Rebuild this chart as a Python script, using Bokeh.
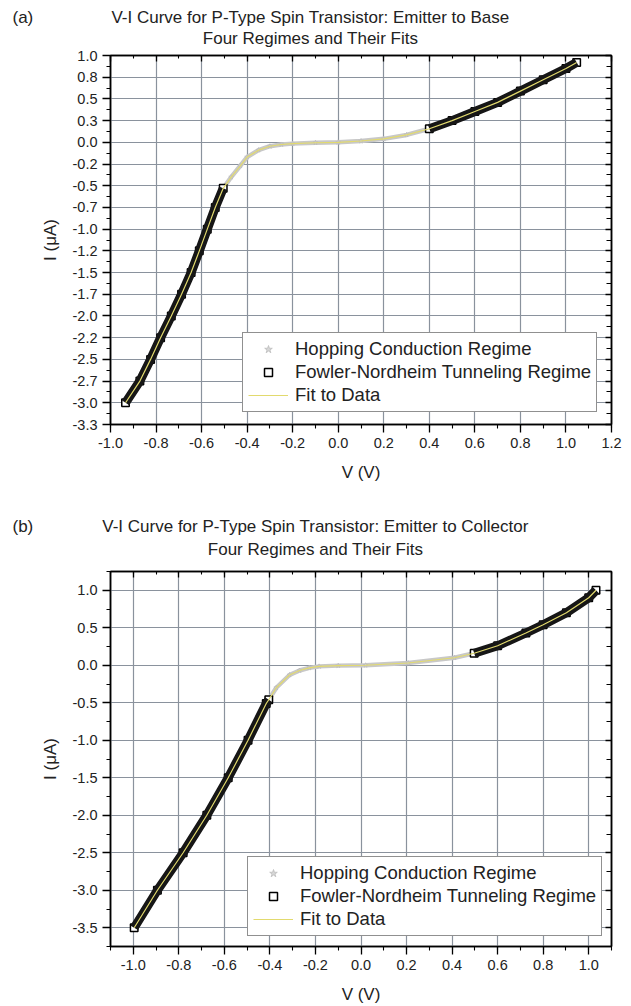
import numpy as np
from bokeh.plotting import figure
from bokeh.models import (Range1d, LinearAxis, FixedTicker, Legend, LegendItem,
                          CustomJSTickFormatter)
from bokeh.core.properties import value
from bokeh.layouts import column
from bokeh.embed import file_html
from bokeh.resources import INLINE

FONT = "Liberation Sans"

# ---------------- panel (a): Emitter to Base ----------------
a_fn_neg_v = [-0.934, -0.871, -0.824, -0.780, -0.733, -0.688, -0.646, -0.610, -0.575, -0.540, -0.505]
a_fn_neg_i = [-3.00, -2.75, -2.50, -2.25, -2.00, -1.75, -1.50, -1.25, -1.00, -0.75, -0.53]
a_hop_v = [-0.505, -0.470, -0.430, -0.400, -0.350, -0.300, -0.250, -0.200, -0.100, 0.000, 0.100, 0.200, 0.300, 0.400]
a_hop_i = [-0.53, -0.40, -0.27, -0.17, -0.09, -0.045, -0.025, -0.015, -0.005, 0.000, 0.015, 0.040, 0.085, 0.156]
a_fn_pos_v = [0.400, 0.500, 0.600, 0.700, 0.800, 0.900, 1.000, 1.047]
a_fn_pos_i = [0.156, 0.250, 0.355, 0.460, 0.590, 0.720, 0.850, 0.920]
a_x_ticks = [-1.0, -0.8, -0.6, -0.4, -0.2, 0.0, 0.2, 0.4, 0.6, 0.8, 1.0, 1.2]
a_x_labels = ["-1.0", "-0.8", "-0.6", "-0.4", "-0.2", "0.0", "0.2", "0.4", "0.6", "0.8", "1.0", "1.2"]
a_y_ticks = [1.0, 0.75, 0.5, 0.25, 0.0, -0.25, -0.5, -0.75, -1.0, -1.25, -1.5, -1.75,
             -2.0, -2.25, -2.5, -2.75, -3.0, -3.25]
a_y_labels = ["1.0", "0.8", "0.5", "0.3", "0.0", "-0.2", "-0.5", "-0.7", "-1.0", "-1.2", "-1.5",
              "-1.7", "-2.0", "-2.2", "-2.5", "-2.7", "-3.0", "-3.3"]

# ---------------- panel (b): Emitter to Collector ----------------
b_fn_neg_v = [-0.996, -0.894, -0.781, -0.677, -0.583, -0.496, -0.416, -0.405]
b_fn_neg_i = [-3.50, -3.00, -2.50, -2.00, -1.50, -1.00, -0.51, -0.46]
b_hop_v = [-0.405, -0.372, -0.314, -0.270, -0.227, -0.184, -0.100, 0.020, 0.207, 0.410, 0.497]
b_hop_i = [-0.46, -0.30, -0.13, -0.07, -0.035, -0.015, -0.005, 0.000, 0.030, 0.100, 0.160]
b_fn_pos_v = [0.497, 0.600, 0.724, 0.800, 0.902, 1.000, 1.032]
b_fn_pos_i = [0.160, 0.260, 0.430, 0.540, 0.700, 0.900, 1.000]
b_x_ticks = [-1.0, -0.8, -0.6, -0.4, -0.2, 0.0, 0.2, 0.4, 0.6, 0.8, 1.0]
b_x_labels = ["-1.0", "-0.8", "-0.6", "-0.4", "-0.2", "0.0", "0.2", "0.4", "0.6", "0.8", "1.0"]
b_y_ticks = [1.0, 0.5, 0.0, -0.5, -1.0, -1.5, -2.0, -2.5, -3.0, -3.5]
b_y_labels = ["1.0", "0.5", "0.0", "-0.5", "-1.0", "-1.5", "-2.0", "-2.5", "-3.0", "-3.5"]

legend_labels = ["Hopping Conduction Regime", "Fowler-Nordheim Tunneling Regime", "Fit to Data"]
subtitle = "Four Regimes and Their Fits"

GRID = "#8a929d"
FIT = "#e2da6e"
TXT = "#222222"


def style_axis(ax, tick_in, tick_out, minor_in, minor_out):
    ax.axis_line_color = "black"
    ax.axis_line_width = 1.5
    ax.major_tick_line_color = "black"
    ax.minor_tick_line_color = "black"
    ax.major_tick_line_width = 1.3
    ax.minor_tick_line_width = 1.1
    ax.major_tick_in = tick_in
    ax.major_tick_out = tick_out
    ax.minor_tick_in = minor_in
    ax.minor_tick_out = minor_out
    ax.major_label_text_font = FONT
    ax.major_label_text_font_size = "14.5px"
    ax.major_label_text_color = TXT
    ax.axis_label_text_font = FONT
    ax.axis_label_text_font_size = "17px"
    ax.axis_label_text_font_style = "normal"
    ax.axis_label_text_color = TXT


def header(height, letter, t1, t2, letter_x, title_x, y1, y2):
    h = figure(width=631, height=height, x_range=Range1d(0, 631), y_range=Range1d(0, height),
               output_backend="svg", toolbar_location=None,
               x_axis_location=None, y_axis_location=None, min_border=0)
    h.frame_align = False
    h.outline_line_color = None
    h.xgrid.visible = False
    h.ygrid.visible = False
    h.text(x=[letter_x], y=[y1], text=[letter], text_font=value(FONT), text_font_size="17px",
           text_baseline="middle", text_align="left", text_color=TXT)
    h.text(x=[title_x, title_x], y=[y1, y2], text=[t1, t2], text_font=value(FONT),
           text_font_size="17px", text_baseline="middle", text_align="center", text_color=TXT)
    return h


def build(height, xr, yr, xt, xl, xminor, yt, yl, yminor,
          fn_neg_v, fn_neg_i, hop_v, hop_i, fn_pos_v, fn_pos_i,
          borders, legend_loc):
    left, right, top, bottom = borders
    p = figure(width=631, height=height, x_range=Range1d(*xr), y_range=Range1d(*yr),
               output_backend="svg", toolbar_location=None,
               min_border_left=left, min_border_right=right,
               min_border_top=top, min_border_bottom=bottom)
    p.outline_line_color = "black"
    p.outline_line_width = 1.5
    p.background_fill_color = "white"
    p.border_fill_color = "white"

    xtick = FixedTicker(ticks=xt, minor_ticks=xminor)
    ytick = FixedTicker(ticks=yt, minor_ticks=yminor)

    xa = p.xaxis[0]
    xa.ticker = xtick
    xa.major_label_overrides = {float(t): s for t, s in zip(xt, xl)}
    xa.axis_label = "V (V)"
    xa.axis_label_standoff = 12
    xa.major_label_standoff = 5
    style_axis(xa, 0, 8, 0, 4)

    ya = p.yaxis[0]
    ya.ticker = ytick
    ya.major_label_overrides = {float(t): s for t, s in zip(yt, yl)}
    ya.axis_label = "I (\u03bcA)"
    ya.axis_label_standoff = 10
    ya.major_label_standoff = 5
    style_axis(ya, 0, 8, 0, 4)

    blank = CustomJSTickFormatter(code="return ''")
    top_ax = LinearAxis(ticker=FixedTicker(ticks=xt, minor_ticks=xminor), formatter=blank)
    style_axis(top_ax, 6, 0, 3, 0)
    top_ax.major_label_standoff = 0
    p.add_layout(top_ax, "above")
    right_ax = LinearAxis(ticker=FixedTicker(ticks=yt, minor_ticks=yminor), formatter=blank)
    style_axis(right_ax, 6, 0, 5, 0)
    right_ax.major_label_standoff = 0
    p.add_layout(right_ax, "right")

    p.xgrid[0].ticker = xtick
    p.ygrid[0].ticker = ytick
    for g in (p.xgrid[0], p.ygrid[0]):
        g.grid_line_color = GRID
        g.grid_line_width = 1.2

    # hopping regime (light grey stars, dense)
    p.line(hop_v, hop_i, line_width=4.5, line_color="#c8c8c8")
    r_hop = p.scatter(hop_v, hop_i, marker="star", size=5, fill_color="#d6d6d6",
                      line_color="#bcbcbc", line_width=0.8)
    # Fowler-Nordheim regime (open black squares, dense)
    fn_v = list(fn_neg_v) + list(fn_pos_v)
    fn_i = list(fn_neg_i) + list(fn_pos_i)
    r_fn = p.scatter(fn_v, fn_i, marker="square", size=7.5, fill_color="white",
                     line_color="black", line_width=1.5)
    p.line(fn_neg_v, fn_neg_i, line_width=9, line_color="#161616", line_cap="butt")
    p.line(fn_pos_v, fn_pos_i, line_width=9, line_color="#161616", line_cap="butt")
    # fit to data
    fit_v = list(fn_neg_v) + list(hop_v) + list(fn_pos_v)
    fit_i = list(fn_neg_i) + list(hop_i) + list(fn_pos_i)
    r_fit = p.line(fit_v, fit_i, line_width=1.2, line_color=FIT)

    legend = Legend(items=[LegendItem(label=legend_labels[0], renderers=[r_hop]),
                           LegendItem(label=legend_labels[1], renderers=[r_fn]),
                           LegendItem(label=legend_labels[2], renderers=[r_fit])],
                    location=legend_loc)
    legend.border_line_color = "#222222"
    legend.border_line_width = 1.2
    legend.background_fill_color = "white"
    legend.background_fill_alpha = 1.0
    legend.label_text_font = FONT
    legend.label_text_font_size = "18.5px"
    legend.label_text_color = TXT
    legend.glyph_width = 40
    legend.glyph_height = 20
    legend.label_height = 20
    legend.spacing = 1
    legend.padding = 5
    legend.margin = 0
    legend.label_standoff = 7
    p.add_layout(legend)
    return p


a_xminor = list(np.round(np.arange(-1.0, 1.2001, 0.1), 3))
a_yminor = list(np.round(np.arange(-3.25, 1.0001, 0.125), 4))
b_xminor = list(np.round(np.arange(-1.1, 1.1001, 0.1), 3))
b_yminor = list(np.round(np.arange(-3.75, 1.2501, 0.25), 3))

ha = header(48, "(a)", "V-I Curve for P-Type Spin Transistor: Emitter to Base", subtitle,
            12, 310, 31, 10)
pa = build(455, (-1.0, 1.2), (-3.25, 1.0), a_x_ticks, a_x_labels, a_xminor,
           a_y_ticks, a_y_labels, a_yminor,
           a_fn_neg_v, a_fn_neg_i, a_hop_v, a_hop_i, a_fn_pos_v, a_fn_pos_i,
           (110, 20, 7, 79), (132, 12))

hb = header(60, "(b)", "V-I Curve for P-Type Spin Transistor: Emitter to Collector", subtitle,
            12, 315, 37, 14)
pb = build(443, (-1.1, 1.1), (-3.75, 1.25), b_x_ticks, b_x_labels, b_xminor,
           b_y_ticks, b_y_labels, b_yminor,
           b_fn_neg_v, b_fn_neg_i, b_hop_v, b_hop_i, b_fn_pos_v, b_fn_pos_i,
           (109, 14, 8, 60), (137, 10))

layout = column(ha, pa, hb, pb, spacing=0)
open("out.html", "w").write(file_html(layout, INLINE))
